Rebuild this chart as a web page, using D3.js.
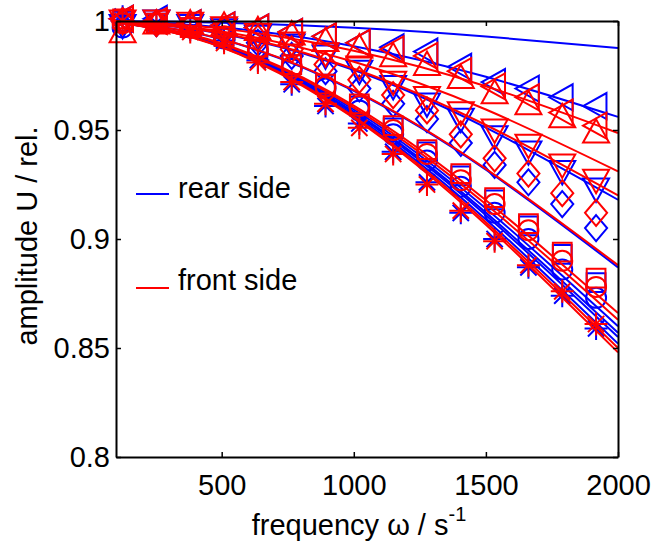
<!DOCTYPE html>
<html>
<head>
<meta charset="utf-8">
<script src="https://cdn.jsdelivr.net/npm/d3@7"></script>
<style>
  body { margin: 0; background: #fff; }
  text { font-family: "Liberation Sans", Arial, sans-serif; }
</style>
</head>
<body>
<svg id="chart" width="656" height="543"></svg>
<script>
// measured frequencies (markers) and the points the fit curves are read at
const omega = [125, 253, 381, 509, 637, 765, 893, 1021, 1149, 1277, 1405, 1533, 1661, 1789, 1917];
const fitOmega = [100, 500, 1000, 1500, 2000];
const xTicks = [500, 1000, 1500, 2000];
const yTicks = [0.8, 0.85, 0.9, 0.95, 1];
const sides = ["rear side", "front side"];

// rear side (blue) measurements
const rearTriLeft = [1.001, 1.001, 0.999, 0.998, 0.997, 0.995, 0.993, 0.990, 0.988, 0.986, 0.979, 0.972, 0.969, 0.965, 0.961];
const rearTriDown = [0.998, 1.000, 0.998, 0.996, 0.993, 0.989, 0.984, 0.977, 0.970, 0.962, 0.955, 0.947, 0.940, 0.931, 0.923];
const rearDiamond = [1.000, 0.999, 0.998, 0.995, 0.990, 0.984, 0.977, 0.969, 0.962, 0.955, 0.944, 0.934, 0.926, 0.916, 0.905];
const rearCircle  = [0.997, 0.999, 0.997, 0.992, 0.986, 0.978, 0.969, 0.959, 0.948, 0.936, 0.924, 0.912, 0.900, 0.886, 0.873];
const rearSquare  = [1.000, 0.999, 0.997, 0.993, 0.987, 0.980, 0.971, 0.961, 0.951, 0.940, 0.929, 0.918, 0.906, 0.893, 0.880];
const rearStar    = [1.002, 0.999, 0.996, 0.991, 0.982, 0.971, 0.961, 0.953, 0.940, 0.926, 0.912, 0.900, 0.887, 0.874, 0.859];

// front side (red) measurements
const frontTriUp   = [0.995, 0.999, 0.999, 0.998, 0.996, 0.994, 0.991, 0.988, 0.984, 0.980, 0.974, 0.967, 0.962, 0.956, 0.949];
const frontTriLeft = [1.001, 1.000, 0.999, 0.998, 0.997, 0.995, 0.993, 0.990, 0.987, 0.984, 0.977, 0.970, 0.965, 0.958, 0.952];
const frontTriDown = [1.000, 1.000, 0.999, 0.997, 0.994, 0.990, 0.985, 0.979, 0.972, 0.965, 0.958, 0.950, 0.943, 0.934, 0.927];
const frontDiamond = [1.000, 0.999, 0.998, 0.996, 0.992, 0.987, 0.980, 0.973, 0.966, 0.959, 0.948, 0.937, 0.930, 0.921, 0.912];
const frontCircle  = [0.999, 0.999, 0.997, 0.993, 0.987, 0.979, 0.970, 0.961, 0.950, 0.939, 0.927, 0.916, 0.904, 0.890, 0.878];
const frontSquare  = [1.001, 0.999, 0.997, 0.993, 0.988, 0.980, 0.971, 0.962, 0.952, 0.941, 0.930, 0.919, 0.907, 0.894, 0.882];
const frontStar    = [1.000, 0.998, 0.995, 0.990, 0.981, 0.972, 0.962, 0.951, 0.939, 0.925, 0.913, 0.899, 0.888, 0.876, 0.861];

// fit curves
const rearFits = [
  [1.0000, 0.9992, 0.9969, 0.9929, 0.9876],
  [0.9999, 0.9971, 0.9884, 0.9744, 0.956],
  [0.9998, 0.9942, 0.9775, 0.9511, 0.918],
  [0.9997, 0.9916, 0.9680, 0.9318, 0.887],
  [0.9996, 0.9891, 0.9594, 0.9140, 0.860],
  [0.9995, 0.9888, 0.9584, 0.9121, 0.857],
  [0.9995, 0.9886, 0.9577, 0.9109, 0.855],
  [0.9995, 0.9883, 0.9568, 0.9090, 0.852]
];
const frontFits = [
  [0.9999, 0.9965, 0.9864, 0.9701, 0.9486],
  [0.9998, 0.9952, 0.9813, 0.9594, 0.931],
  [0.9998, 0.9944, 0.9781, 0.9523, 0.920],
  [0.9997, 0.9917, 0.9683, 0.9322, 0.888],
  [0.9996, 0.9897, 0.9612, 0.9178, 0.866],
  [0.9996, 0.9894, 0.9603, 0.9159, 0.863],
  [0.9995, 0.9881, 0.9562, 0.9077, 0.850],
  [0.9995, 0.9879, 0.9555, 0.9065, 0.848]
];

const blue = "#0000ff";
const red = "#ff0000";

const rearSeries = [
  { values: rearTriLeft, marker: "<" },
  { values: rearTriDown, marker: "v" },
  { values: rearDiamond, marker: "d" },
  { values: rearCircle, marker: "o" },
  { values: rearSquare, marker: "s" },
  { values: rearStar, marker: "*" }
];
const frontSeries = [
  { values: frontTriLeft, marker: "<" },
  { values: frontTriUp, marker: "^" },
  { values: frontTriDown, marker: "v" },
  { values: frontDiamond, marker: "d" },
  { values: frontCircle, marker: "o" },
  { values: frontSquare, marker: "s" },
  { values: frontStar, marker: "*" }
];

// matlab-like marker shapes as d3 symbol types, size = width^2
function shape(fn) {
  return { draw: (ctx, size) => fn(ctx, Math.sqrt(size) / 2) };
}
const symbols = {
  "^": shape((c, r) => { c.moveTo(0, -r); c.lineTo(r, r * 0.8); c.lineTo(-r, r * 0.8); c.closePath(); }),
  "v": shape((c, r) => { c.moveTo(0, r); c.lineTo(r, -r * 0.8); c.lineTo(-r, -r * 0.8); c.closePath(); }),
  "<": shape((c, r) => { c.moveTo(-r, 0); c.lineTo(r * 0.8, -r); c.lineTo(r * 0.8, r); c.closePath(); }),
  "d": shape((c, r) => { c.moveTo(0, -r); c.lineTo(r * 0.85, 0); c.lineTo(0, r); c.lineTo(-r * 0.85, 0); c.closePath(); }),
  "o": shape((c, r) => { c.moveTo(r * 0.8, 0); c.arc(0, 0, r * 0.8, 0, 2 * Math.PI); }),
  "s": shape((c, r) => { const s = r * 0.75; c.moveTo(-s, -s); c.lineTo(s, -s); c.lineTo(s, s); c.lineTo(-s, s); c.closePath(); }),
  "*": shape((c, r) => {
    for (let k = 0; k < 4; k++) {
      const a = k * Math.PI / 4;
      c.moveTo(-r * Math.cos(a), -r * Math.sin(a));
      c.lineTo(r * Math.cos(a), r * Math.sin(a));
    }
  })
};
const markerWidth = { "^": 26, "v": 26, "<": 26, "d": 26, "o": 25, "s": 25, "*": 23 };

const margin = { left: 116, right: 38, top: 21, bottom: 86 };
const width = 656 - margin.left - margin.right;
const height = 543 - margin.top - margin.bottom;

const svg = d3.select("#chart")
  .append("g")
  .attr("transform", "translate(" + margin.left + "," + margin.top + ")");

const x = d3.scaleLinear().domain([100, 2000]).range([0, width]);
const y = d3.scaleLinear().domain([0.8, 1]).range([height, 0]);

const line = d3.line()
  .x((d, i) => x(fitOmega[i]))
  .y(d => y(d))
  .curve(d3.curveNatural);

function drawMarkers(series, color) {
  series.forEach(s => {
    svg.append("g").selectAll("path")
      .data(s.values)
      .enter()
      .append("path")
      .attr("transform", (d, i) => "translate(" + x(omega[i]) + "," + y(d) + ")")
      .attr("d", d3.symbol().type(symbols[s.marker]).size(markerWidth[s.marker] ** 2))
      .attr("fill", "none")
      .attr("stroke", color)
      .attr("stroke-width", 2);
  });
}

function drawFits(fits, color) {
  svg.append("g").selectAll("path")
    .data(fits)
    .enter()
    .append("path")
    .attr("d", line)
    .attr("fill", "none")
    .attr("stroke", color)
    .attr("stroke-width", 2);
}

drawMarkers(rearSeries, blue);
drawFits(rearFits, blue);
drawMarkers(frontSeries, red);
drawFits(frontFits, red);

// axes (box with inward ticks)
const fontSize = 29;
const xAxis = svg.append("g")
  .attr("transform", "translate(0," + height + ")")
  .call(d3.axisBottom(x).tickValues(xTicks).tickFormat(d3.format("d")).tickSizeInner(-5).tickSizeOuter(0).tickPadding(17));
const yAxis = svg.append("g")
  .call(d3.axisLeft(y).tickValues(yTicks).tickFormat(d3.format("")).tickSizeInner(-5).tickSizeOuter(0).tickPadding(6));
const topAxis = svg.append("g")
  .call(d3.axisTop(x).tickValues(xTicks).tickFormat("").tickSizeInner(-5).tickSizeOuter(0));
const rightAxis = svg.append("g")
  .attr("transform", "translate(" + width + ",0)")
  .call(d3.axisRight(y).tickValues(yTicks).tickFormat("").tickSizeInner(-5).tickSizeOuter(0));

[xAxis, yAxis, topAxis, rightAxis].forEach(a => {
  a.select(".domain").attr("stroke", "#000").attr("stroke-width", 2);
  a.selectAll(".tick line").attr("stroke", "#000").attr("stroke-width", 1.5);
  a.selectAll("text")
    .attr("fill", "#000")
    .style("font-size", fontSize + "px")
    .style("font-family", "'Liberation Sans', Arial, sans-serif");
});

// axis titles
const xTitle = svg.append("text")
  .attr("x", width / 2 - 8)
  .attr("y", height + 78)
  .attr("text-anchor", "middle")
  .style("font-size", fontSize + "px");
xTitle.append("tspan").text("frequency ω / s");
xTitle.append("tspan").attr("dy", -14).style("font-size", "20px").text("-1");

svg.append("text")
  .attr("transform", "translate(" + (37 - margin.left) + "," + (height / 2 - 3) + ") rotate(-90)")
  .attr("text-anchor", "middle")
  .style("font-size", fontSize + "px")
  .text("amplitude U / rel.");

// legend
const legend = svg.append("g").attr("transform", "translate(20,173)");
legend.selectAll("line")
  .data(sides)
  .enter()
  .append("line")
  .attr("x1", 0).attr("x2", 33)
  .attr("y1", (d, i) => i * 94).attr("y2", (d, i) => i * 94)
  .attr("stroke", (d, i) => i === 0 ? blue : red)
  .attr("stroke-width", 2);
legend.selectAll("text")
  .data(sides)
  .enter()
  .append("text")
  .attr("x", 42)
  .attr("y", (d, i) => i * 92 + 4)
  .style("font-size", fontSize + "px")
  .text(d => d);
</script>
</body>
</html>
